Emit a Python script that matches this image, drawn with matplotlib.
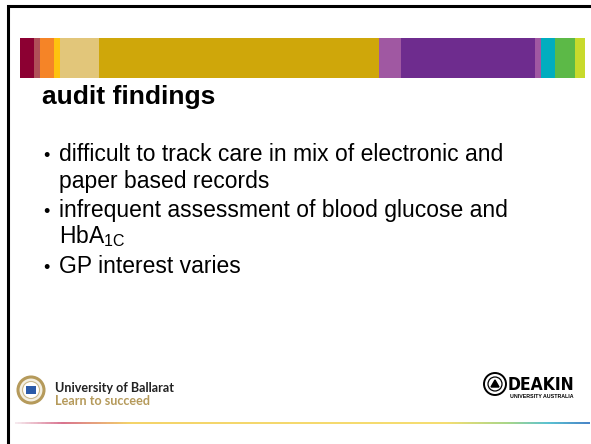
import matplotlib.pyplot as plt
import numpy as np
from matplotlib.colors import LinearSegmentedColormap
from matplotlib.patches import Circle

plt.rcParams['font.family'] = ['Liberation Sans', 'DejaVu Sans']
plt.rcParams['mathtext.fontset'] = 'custom'
plt.rcParams['mathtext.rm'] = 'Liberation Sans'

W, H = 591, 444

# header stripe: segment edges (px) and colours
stripe_edges = [20, 34, 40, 54, 60, 99, 379, 401, 535, 541, 555, 575, 585]
stripe_colors = ['#8c0032', '#b05058', '#f58427', '#fec20f', '#e2c67a', '#cfa70a',
                 '#a058a2', '#6e2c8e', '#a058a2', '#00adbf', '#5cb947', '#c8da2c']

title = 'audit findings'
bullets = [
    ['difficult to track care in mix of electronic and', 'paper based records'],
    ['infrequent assessment of blood glucose and', r'HbA$_{\rm 1C}$'],
    ['GP interest varies'],
]

# footer rule colour stops (position along rule, colour)
rule_stops = [(0.0, '#f6e9ee'), (0.08, '#d9738f'), (0.2, '#f4d46a'), (0.75, '#f6de72'),
              (0.86, '#a8d68a'), (0.93, '#5bc2d2'), (1.0, '#4a86c8')]

fig = plt.figure(figsize=(W / 100, H / 100), dpi=100)
ax = fig.add_axes([0, 0, 1, 1])

# slide frame
ax.plot([8, 8, W + 5], [H + 5, 6, 6], color='black', lw=2.2, solid_joinstyle='miter')

# stripe
lefts = np.array(stripe_edges[:-1])
widths = np.diff(stripe_edges)
ax.barh(58, widths, left=lefts, height=40, color=stripe_colors, linewidth=0)

ax.text(42, 104, title, fontsize=19, fontweight='bold', va='baseline', ha='left')

y = 161
for para in bullets:
    ax.text(43, y, '•', fontsize=13, va='baseline', ha='left')
    for line in para:
        ax.text(59, y, line, fontsize=16.5, va='baseline', ha='left')
        y += 26.5
    y += 3

# footer rule
cmap = LinearSegmentedColormap.from_list('rule', rule_stops)
grad = np.linspace(0, 1, 400).reshape(1, -1)
ax.imshow(grad, cmap=cmap, aspect='auto', extent=[15, 590, 424, 422], zorder=1)

# Ballarat logo
ax.add_patch(Circle((31, 390), 13, facecolor='#f3efe2', edgecolor='#b59a5b', lw=2.2))
ax.add_patch(Circle((31, 390), 8.5, facecolor='white', edgecolor='#c9b98e', lw=0.8))
ax.add_patch(plt.Rectangle((26, 386), 10, 8, facecolor='#2a5aa8', edgecolor='none'))
ax.text(55, 391.5, 'University of Ballarat', fontsize=9.1, fontweight='bold',
        family='Lato', color='#222222', va='baseline')
ax.text(55, 405, 'Learn to succeed', fontsize=9.1, fontweight='bold',
        family='Lato', color='#b59a5b', va='baseline')

# Deakin logo
ax.add_patch(Circle((495, 384), 11, facecolor='white', edgecolor='black', lw=1.4))
ax.add_patch(Circle((495, 384), 7, facecolor='white', edgecolor='black', lw=0.9))
ax.add_patch(plt.Polygon([[491, 387], [495, 380], [499, 387]], color='black'))
ax.text(508, 390, 'DEAKIN', fontsize=12.5, fontweight='bold', fontstretch='condensed',
        family='DejaVu Sans', color='black', va='baseline')
ax.text(510, 398, 'UNIVERSITY AUSTRALIA', fontsize=3.8, fontweight='bold',
        color='black', va='baseline')

ax.set_xlim(0, W)
ax.set_ylim(H, 0)
ax.axis('off')

fig.savefig('out.png', dpi=100, facecolor='white')
